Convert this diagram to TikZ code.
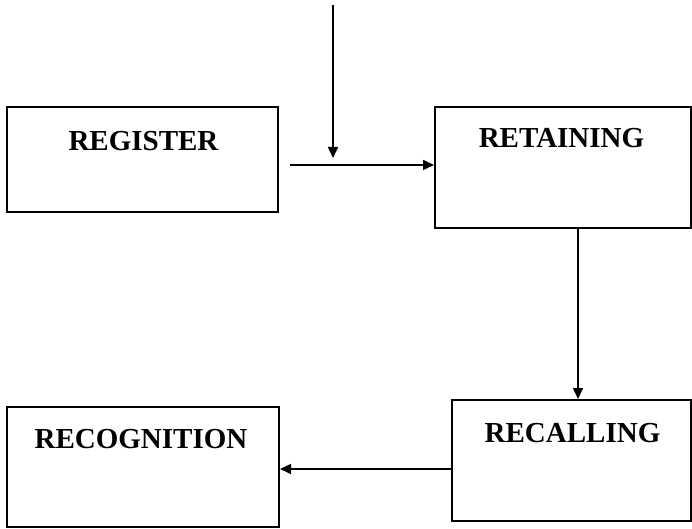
\documentclass[tikz,border=0pt]{standalone}
\usepackage{fontspec}
\setmainfont{Liberation Serif}
\usepackage{tikz}
\usetikzlibrary{arrows.meta,positioning}
\tikzstyle{arrow} = [line width=1.6pt,->,>={Triangle[length=11pt,width=10pt]}]
\tikzstyle{stagebox} = [rectangle, draw, line width=2pt, inner sep=0pt]
\tikzstyle{stagetext} = [anchor=base, inner sep=0pt, font=\fontsize{29}{34}\selectfont\bfseries]

\begin{document}
\begin{tikzpicture}[x=1pt, y=-1pt]
    \useasboundingbox (0,0) rectangle (692,529);

    % Four boxes
    \node[stagebox, minimum width=271pt, minimum height=105pt] (register) at (142.5,159.5) {};
    \node[stagebox, minimum width=256pt, minimum height=121pt] (retaining) at (563,167.5) {};
    \node[stagebox, minimum width=239pt, minimum height=121pt] (recalling) at (571.5,460.5) {};
    \node[stagebox, minimum width=272pt, minimum height=120pt] (recognition) at (143,467) {};

    % Labels
    \node[stagetext] (registertxt) at (143.5,151) {REGISTER};
    \node[stagetext] (retainingtxt) at (561.5,148) {RETAINING};
    \node[stagetext] (recallingtxt) at (572.5,442) {RECALLING};
    \node[stagetext] (recognitiontxt) at (141,448) {RECOGNITION};

    % Free ends
    \coordinate (input) at (333,5);
    \coordinate (inputend) at (333,158);
    \coordinate (regout) at (290,165);

    % Arrows
    \draw[arrow] (input) -- (inputend);
    \draw[arrow] (regout) -- (regout -| retaining.west);
    \draw[arrow] ([xshift=15pt]retaining.south) -- ([xshift=15pt]retaining.south |- recalling.north);
    \draw[arrow] ([yshift=-8.5pt]recalling.west) -- ([yshift=-8.5pt]recalling.west -| recognition.east);
\end{tikzpicture}
\end{document}
